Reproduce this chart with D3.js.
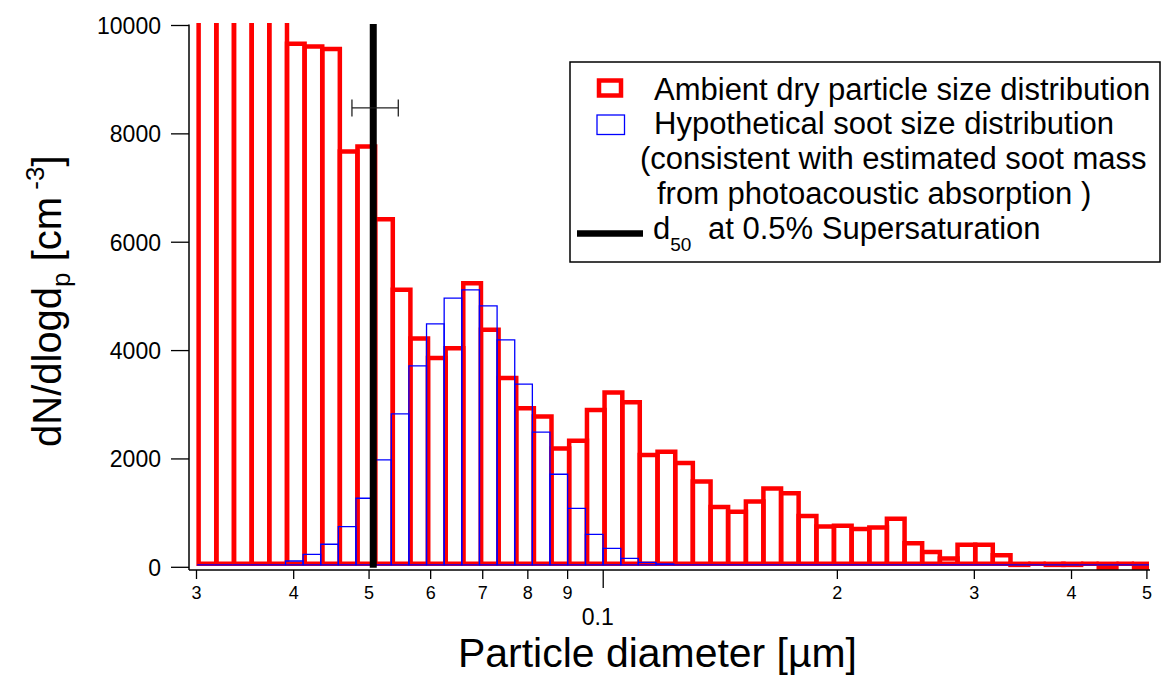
<!DOCTYPE html>
<html lang="en">
<head>
  <meta charset="UTF-8" />
  <title>Particle size distribution</title>
  <script src="https://d3js.org/d3.v7.min.js"></script>
  <style>
    body {
      margin: 0;
      padding: 0;
      background: white;
      font-family: "Liberation Sans", Arial, sans-serif;
    }
    svg { display: block; }
    .axis text { font-family: "Liberation Sans", Arial, sans-serif; fill: #000; }
    .axis line { stroke: #000; stroke-width: 1.3; }
  </style>
</head>
<body>
  <svg id="chart" width="1163" height="684"></svg>

  <script>
    // bin edges (µm)
    const binEdges = [
      0.03010, 0.03172, 0.03342, 0.03522, 0.03710, 0.03910, 0.04119, 0.04340, 0.04572, 0.04817,
      0.05076, 0.05348, 0.05634, 0.05936, 0.06254, 0.06589, 0.06943, 0.07315, 0.07707, 0.08120,
      0.08555, 0.09014, 0.09502, 0.1001, 0.1055, 0.1111, 0.1171, 0.1234, 0.1300, 0.1370,
      0.1443, 0.1521, 0.1602, 0.1688, 0.1778, 0.1874, 0.1974, 0.2080, 0.2192, 0.2309,
      0.2433, 0.2563, 0.2701, 0.2846, 0.2999, 0.3159, 0.3329, 0.3508, 0.3696, 0.3894,
      0.4103, 0.4323, 0.4555, 0.4799, 0.5057
    ];

    // ambient dry particle dN/dlogDp (first bins run off the top of the axis)
    const ambient = [
      12000, 12500, 13000, 12800, 11500, 9600, 9550, 9500, 7610, 7700,
      6360, 5060, 4160, 3800, 3980, 5180, 4320, 3430, 2870, 2720,
      2130, 2270, 2840, 3160, 2980, 2010, 2070, 1860, 1520, 1050,
      960, 1150, 1390, 1300, 880, 690, 700, 640, 670, 830,
      380, 220, 100, 350, 350, 160, -20, 0, -20, -20,
      0, -70, 0, -70
    ];

    // hypothetical soot dN/dlogDp
    const soot = [
      0, 0, 0, 0, 0, 70, 194, 379, 704, 1228,
      1935, 2785, 3671, 4447, 4922, 5075, 4779, 4151, 3333, 2447,
      1671, 1043, 563, 305, 120, 46, 15, 0, 0, 0,
      0, 0, 0, 0, 0, 0, 0, 0, 0, 0,
      0, 0, 0, 0, 0, 0, 0, 0, 0, 0,
      0, 0, 0, 0
    ];

    const d50 = 0.0507;
    const d50Range = [0.0476, 0.0546];
    const d50RangeLevel = 8470;

    const yTicks = [0, 2000, 4000, 6000, 8000, 10000];
    const xTicks = [0.03, 0.04, 0.05, 0.06, 0.07, 0.08, 0.09, 0.1, 0.2, 0.3, 0.4, 0.5];

    const legendLines = [
      { text: "Ambient dry particle size distribution", x: 654, y: 100 },
      { text: "Hypothetical soot size distribution", x: 654, y: 133.5 },
      { text: "(consistent with estimated soot mass", x: 640, y: 168.5 },
      { text: "from photoacoustic absorption )", x: 657, y: 203.5 }
    ];

    const svg = d3.select("#chart");
    const font = "'Liberation Sans', Arial, sans-serif";

    const x = d3.scaleLog().domain([0.03, 0.5]).range([196, 1146.4]);
    const y = d3.scaleLinear().domain([0, 10000]).range([566.8, 25]);

    const axisX = 189, axisY = 570;

    // clip for bars
    svg.append("defs").append("clipPath").attr("id", "plotClip")
      .append("rect")
      .attr("x", axisX).attr("y", 23)
      .attr("width", 1149 - axisX).attr("height", 600 - 23);

    const bins = d3.range(binEdges.length - 1).map(i => ({
      x0: binEdges[i], x1: binEdges[i + 1], a: ambient[i], s: soot[i]
    }));

    // closed outline of one bar; a path so zero-height bars still draw their line
    function barPath(d, v) {
      const p = d3.path();
      p.moveTo(x(d.x0), y(0));
      p.lineTo(x(d.x0), y(v));
      p.lineTo(x(d.x1), y(v));
      p.lineTo(x(d.x1), y(0));
      p.closePath();
      return p.toString();
    }

    // ambient bars: thick red outlines
    svg.append("g").attr("clip-path", "url(#plotClip)")
      .append("g").attr("transform", "translate(1.5,-3)")
      .selectAll("path")
      .data(bins)
      .enter()
      .append("path")
      .attr("d", d => barPath(d, d.a))
      .attr("fill", "none")
      .attr("stroke", "#ff0000")
      .attr("stroke-width", 4.5);

    // soot bars: thin blue outlines
    svg.append("g").attr("clip-path", "url(#plotClip)")
      .append("g").attr("transform", "translate(0,-2)")
      .selectAll("path")
      .data(bins)
      .enter()
      .append("path")
      .attr("d", d => barPath(d, d.s))
      .attr("fill", "none")
      .attr("stroke", "#0000ff")
      .attr("stroke-width", 1.3);

    // d50 line
    svg.append("line")
      .attr("x1", x(d50)).attr("x2", x(d50))
      .attr("y1", y(0) + 1).attr("y2", y(10000) - 1)
      .attr("stroke", "#000")
      .attr("stroke-width", 7);

    // d50 uncertainty bar
    const eb = svg.append("g").attr("stroke", "#222").attr("stroke-width", 1.3);
    eb.append("line")
      .attr("x1", x(d50Range[0])).attr("x2", x(d50Range[1]))
      .attr("y1", y(d50RangeLevel)).attr("y2", y(d50RangeLevel));
    d50Range.forEach(v => {
      eb.append("line")
        .attr("x1", x(v)).attr("x2", x(v))
        .attr("y1", y(d50RangeLevel) - 8.5).attr("y2", y(d50RangeLevel) + 8.5);
    });

    // y axis
    const yAxis = svg.append("g")
      .attr("class", "axis")
      .attr("transform", `translate(${axisX},0)`)
      .call(d3.axisLeft(y).tickValues(yTicks).tickSize(18).tickPadding(10).tickFormat(d3.format("d")));
    yAxis.select(".domain").remove();
    yAxis.selectAll("text").style("font-size", "23px").attr("dy", "0.36em");
    svg.append("line")
      .attr("x1", axisX).attr("x2", axisX)
      .attr("y1", y(10000) - 0.5).attr("y2", axisY)
      .attr("stroke", "#000").attr("stroke-width", 1.5);

    // x axis
    const xAxis = svg.append("g")
      .attr("class", "axis")
      .attr("transform", `translate(0,${axisY})`)
      .call(d3.axisBottom(x).tickValues(xTicks).tickSize(9).tickPadding(7)
        .tickFormat(d => d === 0.1 ? "" : String(Math.round(d * (d < 0.1 ? 100 : 10)))));
    xAxis.select(".domain").remove();
    xAxis.selectAll("text").style("font-size", "18px");
    xAxis.selectAll(".tick").filter(d => d === 0.1).select("line").attr("y2", 18);
    svg.append("line")
      .attr("x1", axisX).attr("x2", 1150)
      .attr("y1", axisY).attr("y2", axisY)
      .attr("stroke", "#000").attr("stroke-width", 1.5);

    svg.append("text")
      .attr("x", x(0.1) - 5).attr("y", 625)
      .attr("text-anchor", "middle")
      .style("font-family", font).style("font-size", "23px")
      .text("0.1");

    // axis titles
    svg.append("text")
      .attr("x", 458).attr("y", 667)
      .attr("textLength", 399).attr("lengthAdjust", "spacingAndGlyphs")
      .style("font-family", font).style("font-size", "40px")
      .text("Particle diameter [\u00b5m]");

    const yl = svg.append("text")
      .attr("transform", "translate(61,447) rotate(-90)")
      .style("font-family", font).style("font-size", "40px");
    yl.append("tspan").text("dN/dlogd");
    yl.append("tspan").attr("dy", 9).style("font-size", "26px").text("p");
    yl.append("tspan").attr("dy", -9).text(" [cm");
    yl.append("tspan").attr("dy", -17).style("font-size", "26px").text(" -3");
    yl.append("tspan").attr("dy", 17).text("]");

    // legend
    const lg = svg.append("g");
    lg.append("rect")
      .attr("x", 570).attr("y", 62).attr("width", 590).attr("height", 200)
      .attr("fill", "white").attr("stroke", "#000").attr("stroke-width", 1.5);
    lg.append("rect")
      .attr("x", 599).attr("y", 80.5).attr("width", 22).attr("height", 15)
      .attr("fill", "none").attr("stroke", "#ff0000").attr("stroke-width", 4.5);
    lg.append("rect")
      .attr("x", 597).attr("y", 115).attr("width", 27.5).attr("height", 19.5)
      .attr("fill", "none").attr("stroke", "#0000ff").attr("stroke-width", 1.3);
    lg.append("line")
      .attr("x1", 577).attr("x2", 643).attr("y1", 233.5).attr("y2", 233.5)
      .attr("stroke", "#000").attr("stroke-width", 6.5);

    lg.selectAll("text.line")
      .data(legendLines)
      .enter()
      .append("text")
      .attr("class", "line")
      .attr("x", d => d.x).attr("y", d => d.y)
      .style("font-family", font).style("font-size", "31px")
      .text(d => d.text);

    const d50t = lg.append("text")
      .attr("x", 653).attr("y", 238.5)
      .style("font-family", font).style("font-size", "31px");
    d50t.append("tspan").text("d");
    d50t.append("tspan").attr("dy", 12).style("font-size", "19px").text("50");
    d50t.append("tspan").attr("dy", -12).attr("x", 708).text("at 0.5% Supersaturation");
  </script>
</body>
</html>
